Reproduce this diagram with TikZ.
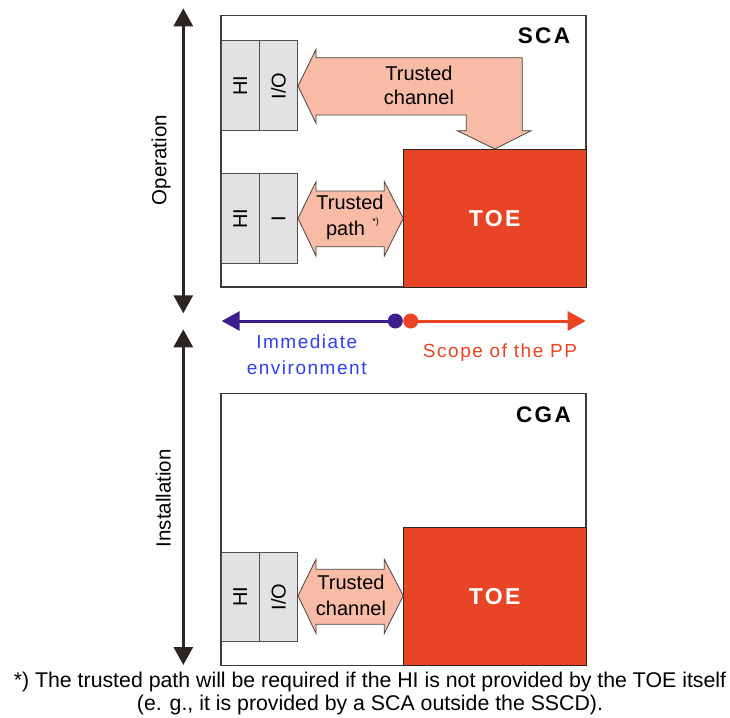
\documentclass[tikz,border=0pt]{standalone}
\usepackage{fontspec}
\setmainfont{Liberation Sans}
\usetikzlibrary{arrows.meta}
\definecolor{salmon}{HTML}{F7BBA6}
\definecolor{toered}{HTML}{E84526}
\definecolor{hibg}{HTML}{E2E2E2}
\definecolor{envline}{HTML}{3B1E8A}
\definecolor{envtext}{HTML}{3040F0}
\definecolor{ppred}{HTML}{EA4424}
\definecolor{dark}{HTML}{2A2422}
\newcommand\fsz[2]{\fontsize{#1}{#2}\selectfont}
\begin{document}
\begin{tikzpicture}[x=1pt,y=-1pt,
  frame/.style={draw=dark!90, line width=1.2pt, fill=white, inner sep=0pt, outer sep=0pt, anchor=north west},
  toebox/.style={draw=dark, line width=1pt, fill=toered, text=white, inner sep=0pt, outer sep=0pt, anchor=north west,
    font=\fsz{23}{27}\bfseries\addfontfeature{LetterSpace=10}},
  hicell/.style={draw=dark!80, line width=1pt, fill=hibg, inner sep=0pt, outer sep=0pt, anchor=north west,
    minimum width=38.3pt, minimum height=89.6pt, font=\fsz{20}{22}},
  bigarrow/.style={draw=dark!85, line width=0.8pt, fill=salmon},
  arrowtext/.style={align=center, font=\fsz{20}{24}},
  tag/.style={font=\fsz{22.5}{26}\bfseries\addfontfeature{LetterSpace=11}},
  phase/.style={draw=dark, line width=3pt, {Triangle[length=18pt,width=19pt]}-{Triangle[length=18pt,width=19pt]}},
  phaselabel/.style={rotate=90, font=\fsz{20.5}{24}},
  scopeline/.style={line width=3pt, -{Triangle[length=18pt,width=19pt]}},
  scopedot/.style={circle, minimum size=15pt, inner sep=0pt, outer sep=0pt},
  scopetext/.style={align=center, font=\fsz{19}{26}\addfontfeature{LetterSpace=8}},
  note/.style={font=\fsz{21.3}{23}}
]
\useasboundingbox (0,0) rectangle (730,717);

% ---------- operation phase (SCA) ----------
\node[frame, minimum width=365pt, minimum height=271.3pt] (sca) at (221,15.7) {};
\node[tag] (scatag) at (544,35.7) {SCA};
\node[toebox, minimum width=182.7pt, minimum height=137.7pt] (toeA) at (403.3,149.3) {TOE};

\node[hicell] (hiA) at (221,41) {\rotatebox{90}{HI}};
\node[hicell] (ioA) at (259.3,41) {\rotatebox{90}{I/O}};
\node[hicell] (hiB) at (221,173.7) {\rotatebox{90}{HI}};
\node[hicell] (iB)  at (259.3,173.7) {\rotatebox{90}{I}};

% bent trusted channel arrow from the TOE to the I/O
\draw[bigarrow] (298,86) -- (316,49.3) -- (316,57.7) -- (522.3,57.7) -- (522.3,130.7)
  -- (531,130.7) -- (495,149) -- (457.3,130.7) -- (466.3,130.7) -- (466.3,115)
  -- (316,115) -- (316,123.3) -- cycle;
\node[arrowtext] (tcA) at (419,85) {Trusted\\channel};

% trusted path double arrow
\draw[bigarrow] (298,218.3) -- (316,181.7) -- (316,191) -- (384.3,191) -- (384.3,181.7)
  -- (403.3,218.3) -- (384.3,256) -- (384.3,246.7) -- (316,246.7) -- (316,256) -- cycle;
\node[arrowtext, font=\fsz{20}{26}] (tp) at (350,217) {Trusted\\path\hphantom{ii}};
\node[font=\fsz{9}{10}] (tpnote) at (375.5,222) {*)};

% ---------- scope line ----------
\node[scopedot, fill=envline] (envdot) at (395.3,321) {};
\node[scopedot, fill=ppred] (ppdot) at (410.7,321) {};
\coordinate (envend) at (221.7,321);
\coordinate (ppend) at (585.7,321);
\draw[scopeline, envline] (envdot) -- (envend);
\draw[scopeline, ppred] (ppdot) -- (ppend);
\node[scopetext, text=envtext] (envlbl) at (306.7,354.7) {Immediate\\environment};
\node[scopetext, text=ppred] (pplbl) at (500,352.7) {Scope of the PP};

% ---------- installation phase (CGA) ----------
\node[frame, minimum width=365pt, minimum height=271.6pt] (cga) at (221,393.7) {};
\node[tag] (cgatag) at (543.5,415) {CGA};
\node[toebox, minimum width=182.7pt, minimum height=138pt] (toeB) at (403.3,527.3) {TOE};
\node[hicell] (hiC) at (221,552) {\rotatebox{90}{HI}};
\node[hicell] (ioC) at (259.3,552) {\rotatebox{90}{I/O}};

\draw[bigarrow] (298,595.7) -- (316,559.3) -- (316,569.3) -- (384.3,569.3) -- (384.3,559.3)
  -- (403.3,595.7) -- (384.3,633.3) -- (384.3,624.3) -- (316,624.3) -- (316,633.3) -- cycle;
\node[arrowtext, font=\fsz{20}{25.5}] (tcB) at (351,595.5) {Trusted\\channel};

% ---------- phase arrows ----------
\coordinate (optop) at (183.3,8.3);
\coordinate (opbot) at (183.3,313.3);
\coordinate (intop) at (183.3,329.3);
\coordinate (inbot) at (183.3,665);
\draw[phase] (optop) -- (opbot);
\draw[phase] (intop) -- (inbot);
\node[phaselabel] (oplbl) at (161,160) {Operation};
\node[phaselabel] (inlbl) at (163.3,498.3) {Installation};

% ---------- footnote ----------
\node[note] (note1) at (370,682) {*) The trusted path will be required if the HI is not provided by the TOE itself};
\node[note] (note2) at (370,705) {(e. g., it is provided by a SCA outside the SSCD).};
\end{tikzpicture}
\end{document}
